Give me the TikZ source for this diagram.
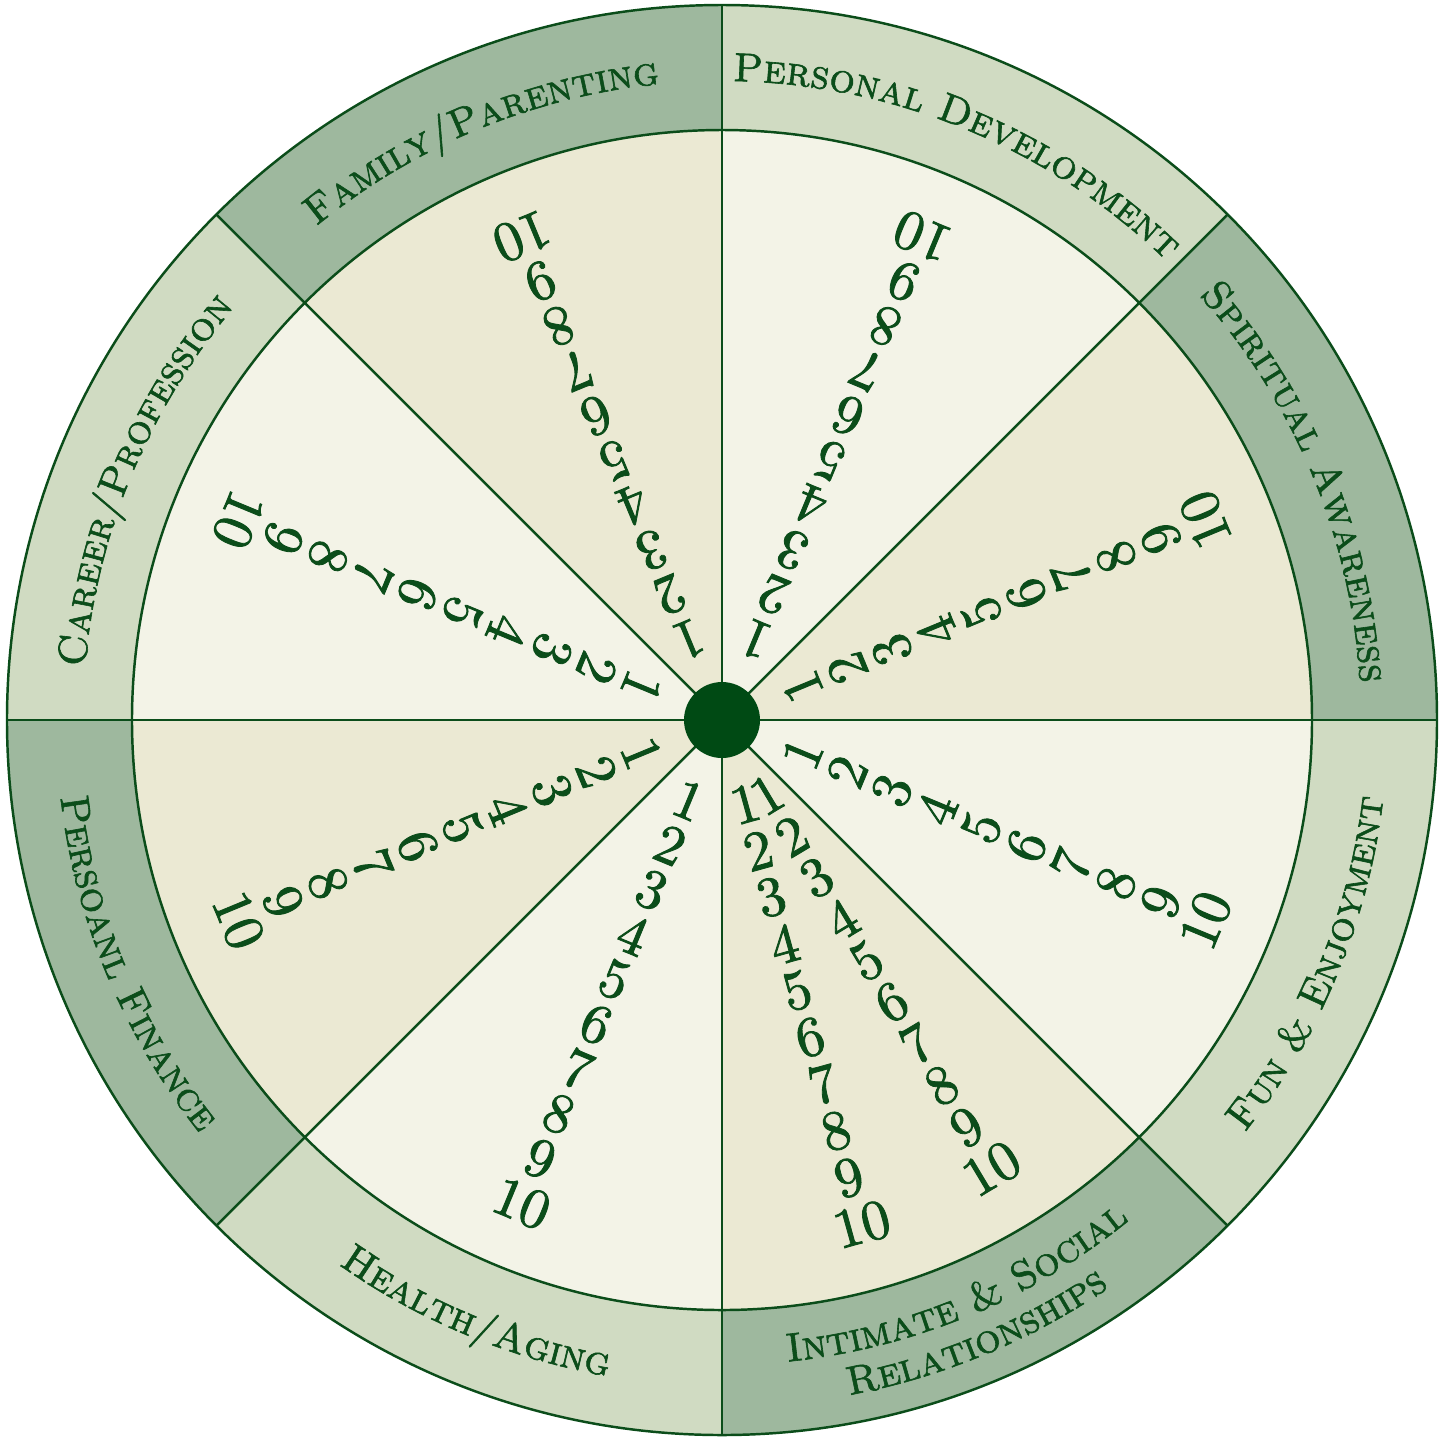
\documentclass[tikz,border=0pt]{standalone}
\usepackage{fontspec}
\usetikzlibrary{decorations.text}

\newfontfamily\scorefamily{lmroman10-regular.otf}[FakeBold=1.5]
\newfontfamily\rimfamily{lmromancaps10-regular.otf}[FakeBold=1.5]
\definecolor{wheelink}{HTML}{0B4D1A}
\definecolor{hubgreen}{HTML}{004A14}
\definecolor{creamlight}{HTML}{F3F3E7}
\definecolor{creamdark}{HTML}{EBE9D3}
\definecolor{bandlight}{HTML}{D0DBC2}
\definecolor{banddark}{HTML}{9EB89E}
\newcommand{\scorefont}{\scorefamily\fontsize{16}{18}\selectfont}

\begin{document}
\begin{tikzpicture}[x=1cm,y=1cm]
\tikzset{
  rim/.style={draw=wheelink,line width=0.7pt},
  score/.style={text=wheelink,font=\scorefont,inner sep=0pt},
  rimlabel/.style={decorate,decoration={text along path,text color=wheelink,
    text align=center,text={#1}}}
}
\useasboundingbox (-7.22,-7.19) rectangle (7.25,7.20);
\coordinate (hub) at (0,0);

% sectors: inner wedge and outer band
\foreach \a/\fillin/\fillout in {0/creamdark/banddark,45/creamlight/bandlight,
    90/creamdark/banddark,135/creamlight/bandlight,180/creamdark/banddark,
    225/creamlight/bandlight,270/creamdark/banddark,315/creamlight/bandlight} {
  \fill[\fillout] (hub) -- (\a:7.15) arc[start angle=\a,end angle=\a+45,radius=7.15] -- cycle;
  \fill[\fillin] (hub) -- (\a:5.90) arc[start angle=\a,end angle=\a+45,radius=5.90] -- cycle;
}
\draw[rim] (hub) circle[radius=5.90];
\draw[rim] (hub) circle[radius=7.15];
\foreach \a in {0,45,...,315}
  \draw[rim] (hub) -- (\a:7.15);
\node[circle,fill=hubgreen,minimum size=0.76cm,inner sep=0pt] (n_hub) at (hub) {};

% scores 1..10 along each spoke
\foreach \spoke/\tag in {22.5/spirit,67.5/growth,112.5/family,157.5/career,
    202.5/money,247.5/health,285.5/close,301/social,337.5/fun} {
  \foreach \n in {1,...,10}
    \node[score,rotate=\spoke+90] (n_\tag_\n) at (\spoke:{0.87+0.485*(\n-1)}) {\n};
}

% labels on the rim
\begingroup
\rimfamily\fontsize{11.5}{13}\selectfont\color{wheelink}
\path[rimlabel={Spiritual Awareness}] (57.5:6.39) arc[start angle=57.5,end angle=-12.5,radius=6.39];
\path[rimlabel={Personal Development}] (102.5:6.39) arc[start angle=102.5,end angle=32.5,radius=6.39];
\path[rimlabel={Family/Parenting}] (147.5:6.39) arc[start angle=147.5,end angle=77.5,radius=6.39];
\path[rimlabel={Career/Profession}] (192.5:6.39) arc[start angle=192.5,end angle=122.5,radius=6.39];
\path[rimlabel={Persoanl Finance}] (167.5:6.66) arc[start angle=167.5,end angle=237.5,radius=6.66];
\path[rimlabel={Health/Aging}] (212.5:6.66) arc[start angle=212.5,end angle=282.5,radius=6.66];
\path[rimlabel={Intimate {\&} Social}] (257.5:6.45) arc[start angle=257.5,end angle=327.5,radius=6.45];
\path[rimlabel={Relationships}] (257.5:6.87) arc[start angle=257.5,end angle=327.5,radius=6.87];
\path[rimlabel={Fun {\&} Enjoyment}] (302.5:6.66) arc[start angle=302.5,end angle=372.5,radius=6.66];
\endgroup
\end{tikzpicture}
\end{document}
